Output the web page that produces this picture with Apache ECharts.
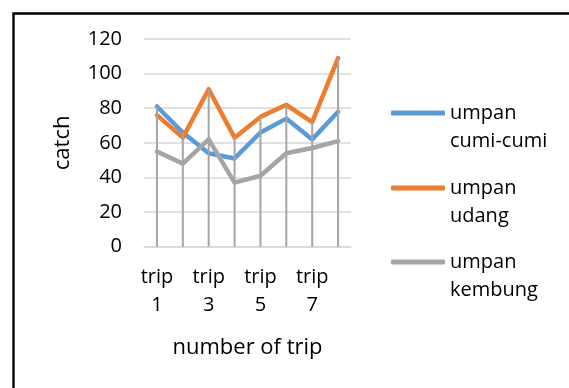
<!DOCTYPE html>
<html>
<head>
<meta charset="utf-8">
<script src="https://cdn.jsdelivr.net/npm/echarts@6/dist/echarts.min.js"></script>
<style>html,body{margin:0;padding:0;background:#fff}#c{width:569px;height:388px}</style>
</head>
<body>
<div id="c"></div>
<script>
var categories = ['trip 1','trip 2','trip 3','trip 4','trip 5','trip 6','trip 7','trip 8'];
var cumiCumi = [81, 66, 54, 51, 66, 74, 62, 78];
var udang = [76, 63, 91, 63, 75, 82, 72, 109];
var kembung = [55, 48, 62, 37, 41, 54, 57, 61];
var seriesNames = ['umpan cumi-cumi', 'umpan udang', 'umpan kembung'];
var yTicks = [0, 20, 40, 60, 80, 100, 120];

var colors = ['#5B9BD5', '#ED7D31', '#A5A5A5'];
var allSeries = [cumiCumi, udang, kembung];
var dropData = categories.map(function (c, i) {
  return [i, Math.max(cumiCumi[i], udang[i], kembung[i])];
});
var FONT = '"Open Sans", sans-serif';

var chart = echarts.init(document.getElementById('c'));
var legendTops = [71, 146, 220];
var option = {
  animation: false,
  textStyle: { fontFamily: FONT, color: '#000' },
  graphic: [{
    type: 'rect', left: 11, top: 11, silent: true, z: 100,
    shape: { x: 0, y: 0, width: 620, height: 420 },
    style: { fill: 'none', stroke: '#000', lineWidth: 2.4 }
  }],
  grid: { left: 144, right: 218, top: 39, bottom: 141.3 },
  legend: seriesNames.map(function (n, i) {
    return {
      data: [n], left: 391, top: legendTops[i], padding: 0,
      icon: 'roundRect', itemWidth: 54, itemHeight: 5,
      selectedMode: false,
      formatter: function (name) { return '{e| }\n' + name.replace(' ', '\n'); },
      textStyle: {
        fontFamily: FONT, fontSize: 20, color: '#000', lineHeight: 28,
        rich: { e: { fontSize: 20, lineHeight: 28 } }
      }
    };
  }),
  xAxis: {
    type: 'category', data: categories, boundaryGap: true,
    name: 'number of trip', nameLocation: 'middle', nameGap: 90,
    nameTextStyle: { fontFamily: FONT, fontSize: 22, color: '#000' },
    axisLine: { show: true, lineStyle: { color: '#D9D9D9', width: 1.5 } },
    axisTick: { show: false },
    axisLabel: {
      interval: 1, margin: 17, fontFamily: FONT, fontSize: 20, color: '#000', lineHeight: 28,
      formatter: function (v) { return v.replace(' ', '\n'); }
    }
  },
  yAxis: {
    type: 'value', min: 0, max: 120, interval: 20,
    name: 'catch', nameLocation: 'middle', nameGap: 70, nameRotate: 90,
    nameTextStyle: { fontFamily: FONT, fontSize: 22, color: '#000' },
    axisLine: { show: false }, axisTick: { show: false },
    axisLabel: {
      margin: 22, fontFamily: FONT, fontSize: 20, color: '#000',
      formatter: function (v) { return yTicks.indexOf(v) >= 0 ? String(v) : ''; }
    },
    splitLine: { lineStyle: { color: '#D9D9D9', width: 1.5 } }
  },
  series: seriesNames.map(function (n, i) {
    return {
      name: n, type: 'line', data: allSeries[i], symbol: 'none',
      color: colors[i],
      lineStyle: { width: 4.5, color: colors[i], join: 'round', cap: 'round' },
      z: 2 + i
    };
  }).concat([{
    type: 'custom', name: 'drop', data: dropData, z: 10, silent: true,
    renderItem: function (params, api) {
      var top = api.coord([api.value(0), api.value(1)]);
      var bot = api.coord([api.value(0), 0]);
      return {
        type: 'line',
        shape: { x1: top[0], y1: top[1], x2: bot[0], y2: bot[1] },
        style: { stroke: '#A5A5A5', lineWidth: 2 }
      };
    }
  }])
};
chart.setOption(option);
</script>
</body>
</html>
